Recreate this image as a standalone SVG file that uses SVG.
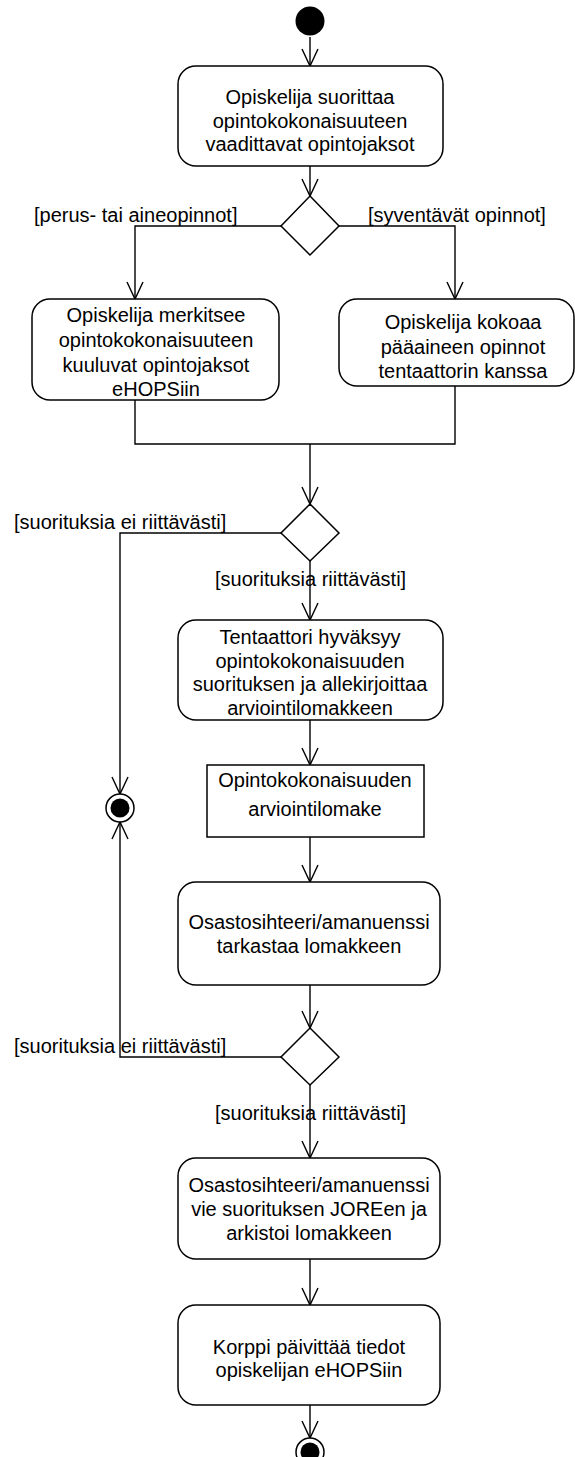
<svg xmlns="http://www.w3.org/2000/svg" width="575" height="1457" viewBox="0 0 575 1457">
<style>
text{font-family:"Liberation Sans",Arial,sans-serif;font-size:20px;fill:#000}
.c{text-anchor:middle}
.box{fill:#fff;stroke:#000;stroke-width:1.5}
.dia{fill:#fff;stroke:#000;stroke-width:1.5}
.ln{fill:none;stroke:#000;stroke-width:1.4}
</style>
<defs>
<marker id="arr" markerUnits="userSpaceOnUse" viewBox="0 0 18 16" markerWidth="18" markerHeight="16" refX="17" refY="8" orient="auto" overflow="visible">
<path d="M0,0 L17,8 L0,16" fill="none" stroke="#000" stroke-width="1.4"/>
</marker>
</defs>
<rect width="575" height="1457" fill="#fff"/>
<g id="connectors">
<path class="ln" d="M310,37 V66" marker-end="url(#arr)"/>
<path class="ln" d="M310,166 V196" marker-end="url(#arr)"/>
<path class="ln" d="M281,226 H135 V299" marker-end="url(#arr)"/>
<path class="ln" d="M339,226 H455 V299" marker-end="url(#arr)"/>
<path class="ln" d="M135,400 V444 H455 V386"/>
<path class="ln" d="M310,444 V504" marker-end="url(#arr)"/>
<path class="ln" d="M281,533 H120 V794" marker-end="url(#arr)"/>
<path class="ln" d="M310,561 V620" marker-end="url(#arr)"/>
<path class="ln" d="M310,720 V765" marker-end="url(#arr)"/>
<path class="ln" d="M310,837 V882" marker-end="url(#arr)"/>
<path class="ln" d="M310,985 V1028" marker-end="url(#arr)"/>
<path class="ln" d="M281,1057 H120 V822" marker-end="url(#arr)"/>
<path class="ln" d="M310,1085 V1158" marker-end="url(#arr)"/>
<path class="ln" d="M310,1259 V1305" marker-end="url(#arr)"/>
<path class="ln" d="M310,1405 V1438" marker-end="url(#arr)"/>
</g>
<g id="labels">
<text x="34" y="222">[perus- tai aineopinnot]</text>
<text x="368" y="222">[syventävät opinnot]</text>
<text x="14" y="529">[suorituksia ei riittävästi]</text>
<text x="215" y="586">[suorituksia riittävästi]</text>
<text x="14" y="1053">[suorituksia ei riittävästi]</text>
<text x="215" y="1120">[suorituksia riittävästi]</text>
</g>
<g id="start"><circle cx="310" cy="21" r="14.5" fill="#000"/></g>
<g id="act1">
<rect class="box" x="178" y="66" width="265" height="100" rx="18"/>
<text class="c" x="310" y="104">Opiskelija suorittaa</text>
<text class="c" x="310" y="128">opintokokonaisuuteen</text>
<text class="c" x="310" y="151">vaadittavat opintojaksot</text>
</g>
<g id="dec1"><path class="dia" d="M310,196 L339,226 L310,255 L281,226 Z"/></g>
<g id="act2">
<rect class="box" x="32" y="299" width="247" height="101" rx="18"/>
<text class="c" x="156" y="322">Opiskelija merkitsee</text>
<text class="c" x="156" y="347">opintokokonaisuuteen</text>
<text class="c" x="156" y="372">kuuluvat opintojaksot</text>
<text class="c" x="156" y="396">eHOPSiin</text>
</g>
<g id="act3">
<rect class="box" x="339" y="299" width="235" height="87" rx="18"/>
<text class="c" x="463" y="329">Opiskelija kokoaa</text>
<text class="c" x="463" y="354">pääaineen opinnot</text>
<text class="c" x="463" y="378">tentaattorin kanssa</text>
</g>
<g id="dec2"><path class="dia" d="M310,504 L339,533 L310,561 L281,533 Z"/></g>
<g id="act4">
<rect class="box" x="178" y="620" width="265" height="100" rx="18"/>
<text class="c" x="310" y="644">Tentaattori hyväksyy</text>
<text class="c" x="310" y="668">opintokokonaisuuden</text>
<text class="c" x="310" y="691">suorituksen ja allekirjoittaa</text>
<text class="c" x="310" y="715">arviointilomakkeen</text>
</g>
<g id="obj1">
<rect class="box" x="207" y="765" width="217" height="72"/>
<text class="c" x="315" y="787">Opintokokonaisuuden</text>
<text class="c" x="315" y="816">arviointilomake</text>
</g>
<g id="final1">
<circle cx="120" cy="808" r="14" fill="#fff" stroke="#000" stroke-width="1.5"/>
<circle cx="120" cy="808" r="9.5" fill="#000"/>
</g>
<g id="act5">
<rect class="box" x="178" y="882" width="262" height="103" rx="18"/>
<text class="c" x="309" y="929">Osastosihteeri/amanuenssi</text>
<text class="c" x="309" y="953">tarkastaa lomakkeen</text>
</g>
<g id="dec3"><path class="dia" d="M310,1028 L339,1057 L310,1085 L281,1057 Z"/></g>
<g id="act6">
<rect class="box" x="178" y="1158" width="262" height="101" rx="18"/>
<text class="c" x="309" y="1192">Osastosihteeri/amanuenssi</text>
<text class="c" x="309" y="1216">vie suorituksen JOREen ja</text>
<text class="c" x="309" y="1240">arkistoi lomakkeen</text>
</g>
<g id="act7">
<rect class="box" x="178" y="1305" width="262" height="100" rx="18"/>
<text class="c" x="309" y="1354">Korppi päivittää tiedot</text>
<text class="c" x="309" y="1377">opiskelijan eHOPSiin</text>
</g>
<g id="final2">
<circle cx="310" cy="1452" r="14" fill="#fff" stroke="#000" stroke-width="1.5"/>
<circle cx="310" cy="1452" r="9.5" fill="#000"/>
</g>
</svg>
